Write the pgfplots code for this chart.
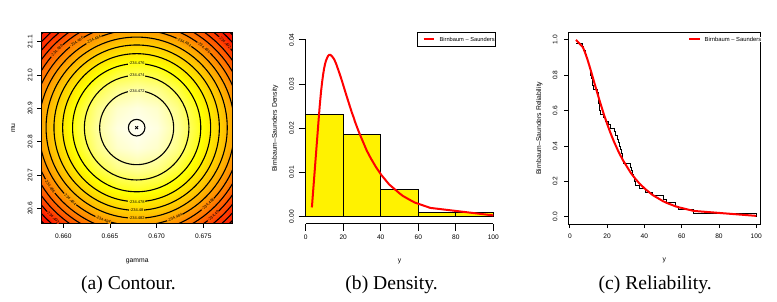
\documentclass[border=0pt]{standalone}
\usepackage{fontspec}
\setmainfont{Liberation Sans}
\newfontfamily\capfont{Liberation Serif}
\usepackage{pgfplots}
\pgfplotsset{compat=1.18}
\usetikzlibrary{plotmarks}

\definecolor{lc1}{RGB}{255,255,170}
\definecolor{lc2}{RGB}{255,255,95}
\definecolor{lc3}{RGB}{255,255,30}
\definecolor{lc4}{RGB}{255,236,0}
\definecolor{lc5}{RGB}{255,210,0}
\definecolor{lc6}{RGB}{255,185,0}
\definecolor{lc7}{RGB}{255,158,0}
\definecolor{lc8}{RGB}{255,133,0}
\definecolor{lc9}{RGB}{255,107,0}
\definecolor{lc10}{RGB}{255,81,0}
\definecolor{lc11}{RGB}{255,55,0}

\tikzset{clab/.style={font=\fontsize{4}{4}\selectfont, inner sep=0.4pt}}
\pgfplotsset{
  rstyle/.style={
    scale only axis,
    tick align=outside,
    tick pos=left,
    every tick/.style={black, line width=0.8pt},
    axis line style={line width=0.8pt},
    tick label style={font=\fontsize{6.6}{7}\selectfont},
    label style={font=\fontsize{6.8}{7}\selectfont},
    /pgf/number format/assume math mode=true,
    scaled x ticks=false, scaled y ticks=false,
    xticklabel style={anchor=center},
    yticklabel style={anchor=center, rotate=90},
  },
}

\begin{document}
\begin{tikzpicture}
\path[use as bounding box] (0pt,0pt) rectangle (777pt,-301pt);

% ---------------- (a) heat map ----------------
\begin{axis}[at={(41.7pt,-223.3pt)}, anchor=south west, scale only axis,
  width=191pt, height=190.6pt, view={0}{90}, hide axis,
  xmin=0.657686, xmax=0.67815, ymin=20.555, ymax=21.127, zmin=0, zmax=60,
  colormap={heat}{rgb255(0pt)=(255,255,245) rgb255(112pt)=(255,255,0) rgb255(281pt)=(255,128,0) rgb255(449pt)=(255,0,0)},
  point meta min=0, point meta max=44.9]
\addplot3[surf, shader=interp, mesh/cols=11] table {
x y z
0.657146 20.542 50
0.659289 20.542 41
0.661432 20.542 34
0.663575 20.542 29
0.665717 20.542 26
0.667860 20.542 25
0.670003 20.542 26
0.672145 20.542 29
0.674288 20.542 34
0.676431 20.542 41
0.678574 20.542 50
0.657146 20.602 41
0.659289 20.602 32
0.661432 20.602 25
0.663575 20.602 20
0.665717 20.602 17
0.667860 20.602 16
0.670003 20.602 17
0.672145 20.602 20
0.674288 20.602 25
0.676431 20.602 32
0.678574 20.602 41
0.657146 20.662 34
0.659289 20.662 25
0.661432 20.662 18
0.663575 20.662 13
0.665717 20.662 10
0.667860 20.662 9
0.670003 20.662 10
0.672145 20.662 13
0.674288 20.662 18
0.676431 20.662 25
0.678574 20.662 34
0.657146 20.722 29
0.659289 20.722 20
0.661432 20.722 13
0.663575 20.722 8
0.665717 20.722 5
0.667860 20.722 4
0.670003 20.722 5
0.672145 20.722 8
0.674288 20.722 13
0.676431 20.722 20
0.678574 20.722 29
0.657146 20.782 26
0.659289 20.782 17
0.661432 20.782 10
0.663575 20.782 5
0.665717 20.782 2
0.667860 20.782 1
0.670003 20.782 2
0.672145 20.782 5
0.674288 20.782 10
0.676431 20.782 17
0.678574 20.782 26
0.657146 20.842 25
0.659289 20.842 16
0.661432 20.842 9
0.663575 20.842 4
0.665717 20.842 1
0.667860 20.842 0
0.670003 20.842 1
0.672145 20.842 4
0.674288 20.842 9
0.676431 20.842 16
0.678574 20.842 25
0.657146 20.902 26
0.659289 20.902 17
0.661432 20.902 10
0.663575 20.902 5
0.665717 20.902 2
0.667860 20.902 1
0.670003 20.902 2
0.672145 20.902 5
0.674288 20.902 10
0.676431 20.902 17
0.678574 20.902 26
0.657146 20.962 29
0.659289 20.962 20
0.661432 20.962 13
0.663575 20.962 8
0.665717 20.962 5
0.667860 20.962 4
0.670003 20.962 5
0.672145 20.962 8
0.674288 20.962 13
0.676431 20.962 20
0.678574 20.962 29
0.657146 21.022 34
0.659289 21.022 25
0.661432 21.022 18
0.663575 21.022 13
0.665717 21.022 10
0.667860 21.022 9
0.670003 21.022 10
0.672145 21.022 13
0.674288 21.022 18
0.676431 21.022 25
0.678574 21.022 34
0.657146 21.082 41
0.659289 21.082 32
0.661432 21.082 25
0.663575 21.082 20
0.665717 21.082 17
0.667860 21.082 16
0.670003 21.082 17
0.672145 21.082 20
0.674288 21.082 25
0.676431 21.082 32
0.678574 21.082 41
0.657146 21.142 50
0.659289 21.142 41
0.661432 21.142 34
0.663575 21.142 29
0.665717 21.142 26
0.667860 21.142 25
0.670003 21.142 26
0.672145 21.142 29
0.674288 21.142 34
0.676431 21.142 41
0.678574 21.142 50
};
\end{axis}

% ---------------- (a) contour overlay ----------------
\begin{axis}[rstyle, at={(41.7pt,-223.3pt)}, anchor=south west,
  width=191pt, height=190.6pt,
  xmin=0.657686, xmax=0.67815, ymin=20.555, ymax=21.127,
  clip marker paths=true,
  major tick length=4.4pt,
  xtick={0.660,0.665,0.670,0.675}, ytick={20.6,20.7,20.8,20.9,21.0,21.1},
  x tick label style={/pgf/number format/.cd, fixed, fixed zerofill, precision=3},
  y tick label style={/pgf/number format/.cd, fixed, fixed zerofill, precision=1},
  xticklabel shift=9pt, yticklabel shift=7.3pt,
  xlabel={gamma}, ylabel={mu},
  xlabel style={at={(axis description cs:0.5,-0.1978)}, anchor=center},
  ylabel style={at={(axis description cs:-0.1487,0.5)}, anchor=center},
]
\pgfplotsinvokeforeach{37.0,52.3,64.1,74.0,82.7,90.6,97.9,104.7,111.0,117.0,122.7,128.2,133.4}{
  \addplot[only marks, mark=o, mark size=#1pt, mark options={line width=1.1pt, draw=black}] coordinates {(0.66786,20.842)};
}
\addplot[only marks, mark=o, mark size=8.3pt, mark options={line width=1.1pt, draw=black}] coordinates {(0.66786,20.842)};
\addplot[only marks, mark=x, mark size=2pt, mark options={line width=0.9pt, draw=black}] coordinates {(0.66786,20.842)};
\node[clab, fill=lc1] at (axis cs:0.66786,20.953) {-234.472};
\node[clab, fill=lc2] at (axis cs:0.66786,20.999) {-234.474};
\node[clab, fill=lc3] at (axis cs:0.66786,21.0343) {-234.476};
\node[clab, fill=lc4] at (axis cs:0.66786,20.620) {-234.478};
\node[clab, fill=lc5] at (axis cs:0.66786,20.594) {-234.48};
\node[clab, fill=lc6] at (axis cs:0.66786,20.570) {-234.482};
\node[clab, fill=lc7, rotate=26] at (axis cs:0.663264,21.106) {-234.484};
\node[clab, fill=lc8, rotate=35] at (axis cs:0.661426,21.0993) {-234.486};
\node[clab, fill=lc9, rotate=46] at (axis cs:0.659305,21.0734) {-234.488};
\node[clab, fill=lc7, rotate=-29] at (axis cs:0.672945,21.0989) {-234.484};
\node[clab, fill=lc8, rotate=-40] at (axis cs:0.67507,21.0826) {-234.486};
\node[clab, fill=lc11, rotate=-46] at (axis cs:0.67732,21.0977) {-234.492};
\node[clab, fill=lc8, rotate=-56] at (axis cs:0.65856,20.6663) {-234.486};
\node[clab, fill=lc7, rotate=-43] at (axis cs:0.660707,20.6272) {-234.484};
\node[clab, fill=lc11, rotate=-43] at (axis cs:0.658895,20.5728) {-234.492};
\node[clab, fill=lc7, rotate=-20] at (axis cs:0.664273,20.566) {-234.484};
\node[clab, fill=lc7, rotate=23] at (axis cs:0.671958,20.5716) {-234.484};
\node[clab, fill=lc8, rotate=43] at (axis cs:0.67551,20.6122) {-234.486};
\node[clab, fill=lc10, rotate=41] at (axis cs:0.67608,20.5771) {-234.49};
\end{axis}

% ---------------- (b) density ----------------
\begin{axis}[rstyle, at={(305.7pt,-223.8pt)}, anchor=south west,
  width=187.6pt, height=191pt,
  xmin=0, xmax=100, ymin=-0.0016, ymax=0.0416,
  axis x line*=bottom, axis y line*=left,
  y axis line style={shorten <=7.07pt, shorten >=7.07pt},
  major tick length=7pt, clip=false,
  xtick={0,20,40,60,80,100}, ytick={0,0.01,0.02,0.03,0.04},
  y tick label style={/pgf/number format/.cd, fixed, fixed zerofill, precision=2},
  xticklabel shift=6.9pt, yticklabel shift=7pt,
  xlabel={y}, ylabel={Birnbaum–Saunders Density},
  xlabel style={at={(axis description cs:0.5,-0.1948)}, anchor=center},
  ylabel style={at={(axis description cs:-0.1636,0.5)}, anchor=center},
  legend style={at={(1.0144,1.0026)}, anchor=north east, draw=black, line width=0.6pt,
    inner xsep=1pt, inner ysep=4.7pt, column sep=5pt,
    nodes={inner sep=0pt, text depth=0pt}, cells={anchor=west},
    font=\fontsize{5.7}{6}\selectfont},
]
\addplot[ybar interval, fill=yellow, draw=black, line width=0.8pt, forget plot]
  coordinates {(0,0.0232) (20,0.0187) (40,0.0062) (60,0.0010) (80,0.0010) (100,0.0010)};
\addplot[red, line width=2pt,
  legend image code/.code={\path (0pt,0pt); \draw[red, line width=2pt] (4.7pt,0pt) -- (14.7pt,0pt);}]
  coordinates {
(3.3,0.0021)(6.9,0.0220)(7.5,0.0252)(8.2,0.0284)(8.8,0.0306)(9.3,0.0322)(9.8,0.0335)
(10.3,0.0345)(10.8,0.0353)(11.2,0.0357)(11.6,0.0361)(12.0,0.0364)(12.5,0.0366)
(13.2,0.0366)(14.0,0.0363)
(14.9,0.0358)(15.3,0.0355)(15.8,0.0350)(16.3,0.0345)(18.2,0.0322)(19.2,0.0309)
(20.5,0.0291)(21.8,0.0273)(23.6,0.0249)(24.5,0.0237)(25.6,0.0224)(26.2,0.0216)
(26.8,0.0209)(27.6,0.0200)(28.5,0.0190)(32.5,0.0150)(33.6,0.0141)(34.6,0.0133)
(35.0,0.0130)(37.5,0.0112)(40.4,0.0094)(44.5,0.0073)(50.0,0.0053)(51.8,0.0047)
(56.4,0.0036)(58.2,0.0032)(66.4,0.0020)(100,0.0003)};
\addlegendentry{Birnbaum – Saunders}
\end{axis}

% ---------------- (c) reliability ----------------
\begin{axis}[rstyle, at={(568pt,-224pt)}, anchor=south west,
  width=192.7pt, height=191.7pt,
  xmin=-1, xmax=102.4, ymin=-0.041, ymax=1.042,
  major tick length=4pt,
  xtick={0,20,40,60,80,100}, ytick={0,0.2,0.4,0.6,0.8,1.0},
  y tick label style={/pgf/number format/.cd, fixed, fixed zerofill, precision=1},
  xticklabel shift=8.7pt, yticklabel shift=9pt,
  xlabel={y}, ylabel={Birnbaum–Saunders Reliability},
  xlabel style={at={(axis description cs:0.5,-0.1920)}, anchor=center},
  ylabel style={at={(axis description cs:-0.1489,0.5)}, anchor=center},
  legend style={at={(0.6243,0.9635)}, anchor=west, draw=white, line width=0.2pt,
    inner sep=0pt, column sep=3.7pt,
    nodes={inner sep=0pt, text depth=0pt}, cells={anchor=west},
    font=\fontsize{5.85}{6}\selectfont},
]
\addplot[black, line width=0.7pt, const plot, forget plot] coordinates {
(3.3,0.98)(6.9,0.96)(7.5,0.94)(8.2,0.92)(8.8,0.90)(9.3,0.88)(9.8,0.86)(10.3,0.84)
(10.8,0.82)(11.2,0.80)(11.6,0.78)(12.0,0.76)(12.3,0.74)(12.5,0.72)(14.9,0.70)
(15.1,0.68)(15.3,0.66)(15.5,0.64)(15.8,0.62)(16.0,0.60)(16.3,0.58)(18.2,0.56)
(19.2,0.54)(20.5,0.52)(21.8,0.50)(23.6,0.48)(24.5,0.46)(25.6,0.44)(26.2,0.42)
(26.8,0.40)(27.2,0.38)(27.6,0.36)(27.9,0.34)(28.2,0.32)(28.5,0.30)(32.5,0.28)
(33.1,0.26)(33.6,0.24)(34.1,0.22)(34.6,0.20)(35.0,0.18)(37.5,0.16)(40.4,0.14)
(44.5,0.12)(50.0,0.10)(51.8,0.08)(56.4,0.06)(58.2,0.04)(66.4,0.02)(100,0.00)};
\addplot[red, line width=2pt,
  legend image code/.code={\path (0pt,0pt); \draw[red, line width=1.8pt] (0pt,0pt) -- (10.7pt,0pt);}]
  coordinates {
(3.3,0.999)(6.9,0.959)(7.5,0.945)(8.2,0.926)(8.8,0.908)(9.3,0.893)(9.8,0.876)
(10.3,0.859)(10.8,0.842)(11.6,0.813)(12.5,0.780)(14.9,0.693)(15.5,0.672)(16.3,0.644)
(18.2,0.580)(19.2,0.549)(20.5,0.510)(21.8,0.473)(23.6,0.426)(25.6,0.379)(26.8,0.353)
(27.9,0.331)(28.5,0.319)(32.5,0.251)(33.6,0.235)(34.6,0.222)(35.0,0.216)(37.5,0.186)
(40.4,0.157)(44.5,0.122)(50.0,0.088)(51.8,0.079)(56.4,0.060)(58.2,0.054)(66.4,0.033)
(100,0.005)};
\addlegendentry{Birnbaum – Saunders}
\end{axis}

% ---------------- captions ----------------
\node[font=\capfont\fontsize{19.6}{22}\selectfont, anchor=base] at (128.5pt,-289.4pt) {(a) Contour.};
\node[font=\capfont\fontsize{19.6}{22}\selectfont, anchor=base] at (391.6pt,-289.4pt) {(b) Density.};
\node[font=\capfont\fontsize{19.6}{22}\selectfont, anchor=base] at (655.2pt,-289.4pt) {(c) Reliability.};
\end{tikzpicture}
\end{document}
